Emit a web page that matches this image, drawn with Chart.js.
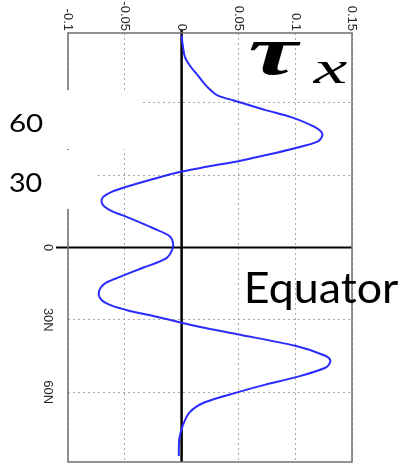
<!DOCTYPE html>
<html>
<head>
<meta charset="utf-8">
<script src="https://cdn.jsdelivr.net/npm/chart.js@4/dist/chart.umd.min.js"></script>
<style>
  html, body { margin: 0; padding: 0; background: #fff; }
  canvas { display: block; }
</style>
</head>
<body>
<canvas id="stress" width="401" height="465"></canvas>
<script>
// Zonal wind stress profile, latitude (deg, south negative) vs tau_x
const lat = [-88, -84, -79, -75, -71, -68, -66, -63, -61, -57, -54, -50, -47, -44, -41, -38, -36, -33.5, -31.5,
  -28, -25, -23, -21, -19, -17, -15, -13, -8, -4.5, -0.5, 4.3, 8.4, 12.5, 14.5, 16.5, 19.4, 22, 24, 26, 28.4, 31.2,
  33.5, 36, 40.8, 45, 47, 49.8, 53.9, 57, 60.1, 64.3, 68.4, 73.9, 79.4, 86.5];
const taux = [0.000, 0.001, 0.003, 0.008, 0.015, 0.020, 0.024, 0.032, 0.046, 0.074, 0.097, 0.117, 0.124, 0.120, 0.098, 0.071, 0.052, 0.022, 0.000,
  -0.028, -0.050, -0.062, -0.069, -0.0705, -0.068, -0.061, -0.050, -0.025, -0.010, -0.0075, -0.013, -0.034, -0.056, -0.066, -0.071, -0.073, -0.070, -0.062, -0.048, -0.025, 0.000,
  0.022, 0.049, 0.100, 0.127, 0.131, 0.127, 0.100, 0.073, 0.049, 0.020, 0.007, 0.001, -0.002, -0.0025];

const xTicks = [-0.1, -0.05, 0, 0.05, 0.1, 0.15];
const xTickLabels = ['-0.1', '-0.05', '0', '0.05', '0.1', '0.15'];
const latTicks = [-60, -30, 0, 30, 60];
const latTickLabels = ['', '', '0', '30N', '60N'];

// stretch a string so its ink fills the given box
function fitText(ctx, text, font, box) {
  ctx.save();
  ctx.font = font;
  ctx.textAlign = 'left';
  ctx.textBaseline = 'alphabetic';
  const m = ctx.measureText(text);
  const w = m.actualBoundingBoxLeft + m.actualBoundingBoxRight;
  const h = m.actualBoundingBoxAscent + m.actualBoundingBoxDescent;
  ctx.translate(box.x, box.y);
  ctx.scale(box.w / w, box.h / h);
  ctx.fillText(text, m.actualBoundingBoxLeft, m.actualBoundingBoxAscent);
  ctx.restore();
}

const decor = {
  id: 'decor',
  beforeDatasetsDraw(chart) {
    const { ctx, chartArea: a, scales: { x, y } } = chart;
    const x0 = x.getPixelForValue(0), y0 = y.getPixelForValue(0);
    ctx.save();
    ctx.strokeStyle = '#000';
    ctx.lineWidth = 2.5;
    ctx.beginPath();
    ctx.moveTo(x0, a.top - 3);
    ctx.lineTo(x0, a.bottom);
    ctx.stroke();
    ctx.lineWidth = 2;
    ctx.beginPath();
    ctx.moveTo(a.left - 12, y0);
    ctx.lineTo(a.right, y0);
    ctx.stroke();
    ctx.restore();
  },
  afterDraw(chart) {
    const { ctx, chartArea: a, scales: { x, y } } = chart;
    ctx.save();
    // frame
    ctx.strokeStyle = '#6f6f6f';
    ctx.lineWidth = 1.5;
    ctx.strokeRect(a.left, a.top, a.right - a.left, a.bottom - a.top);

    // tick labels, turned a quarter clockwise
    ctx.fillStyle = '#2a2a2a';
    ctx.font = '13px "Liberation Sans", Arial, sans-serif';
    ctx.textAlign = 'right';
    ctx.textBaseline = 'middle';
    xTicks.forEach((v, i) => {
      ctx.save();
      ctx.translate(x.getPixelForValue(v), a.top - 2);
      ctx.rotate(Math.PI / 2);
      ctx.fillText(xTickLabels[i], 0, 0);
      ctx.restore();
    });
    ctx.textAlign = 'center';
    latTicks.forEach((v, i) => {
      if (!latTickLabels[i]) return;
      ctx.save();
      ctx.translate(a.left - 20, y.getPixelForValue(v));
      ctx.rotate(Math.PI / 2);
      ctx.fillText(latTickLabels[i], 0, 0);
      ctx.restore();
    });

    // patches with the southern latitude labels
    ctx.fillStyle = '#fff';
    ctx.fillRect(0, 90, 141, 59);
    ctx.fillRect(0, 150, 97, 59);
    ctx.fillStyle = '#000';
    fitText(ctx, '60', '28px Lato, "Open Sans", sans-serif', { x: 10, y: 113, w: 33, h: 19 });
    fitText(ctx, '30', '28px Lato, "Open Sans", sans-serif', { x: 10, y: 172, w: 32, h: 20 });
    fitText(ctx, 'Equator', '42px Lato, "Open Sans", sans-serif', { x: 247, y: 272, w: 151, h: 38 });

    // tau_x
    fitText(ctx, '\u03c4', 'bold italic 60px "Liberation Serif", "DejaVu Serif", serif', { x: 250, y: 42, w: 52, h: 33 });
    fitText(ctx, 'x', 'italic 44px "Liberation Serif", "DejaVu Serif", serif', { x: 312, y: 62, w: 36, h: 21 });
    ctx.restore();
  }
};

new Chart(document.getElementById('stress'), {
  type: 'scatter',
  data: {
    datasets: [{
      data: lat.map((v, i) => ({ x: taux[i], y: v })),
      showLine: true,
      borderColor: '#2b2bff',
      borderWidth: 2,
      pointRadius: 0,
      tension: 0.3,
      fill: false
    }]
  },
  options: {
    responsive: false,
    animation: false,
    layout: { padding: { left: 68, right: 49, top: 33, bottom: 3 } },
    plugins: { legend: { display: false }, tooltip: { enabled: false } },
    scales: {
      x: {
        type: 'linear',
        position: 'top',
        min: -0.1,
        max: 0.15,
        afterBuildTicks: s => { s.ticks = xTicks.map(v => ({ value: v })); },
        ticks: { display: false },
        grid: { color: c => c.tick && c.tick.value === 0 ? 'rgba(0,0,0,0)' : '#a8a8a8', lineWidth: 1, drawTicks: false },
        border: { display: false, dash: [2, 3] }
      },
      y: {
        type: 'linear',
        reverse: true,
        min: -89,
        max: 89,
        afterBuildTicks: s => { s.ticks = latTicks.map(v => ({ value: v })); },
        ticks: { display: false },
        grid: { color: c => c.tick && c.tick.value === 0 ? 'rgba(0,0,0,0)' : '#a8a8a8', lineWidth: 1, drawTicks: false },
        border: { display: false, dash: [2, 3] }
      }
    }
  },
  plugins: [decor]
});
</script>
</body>
</html>
